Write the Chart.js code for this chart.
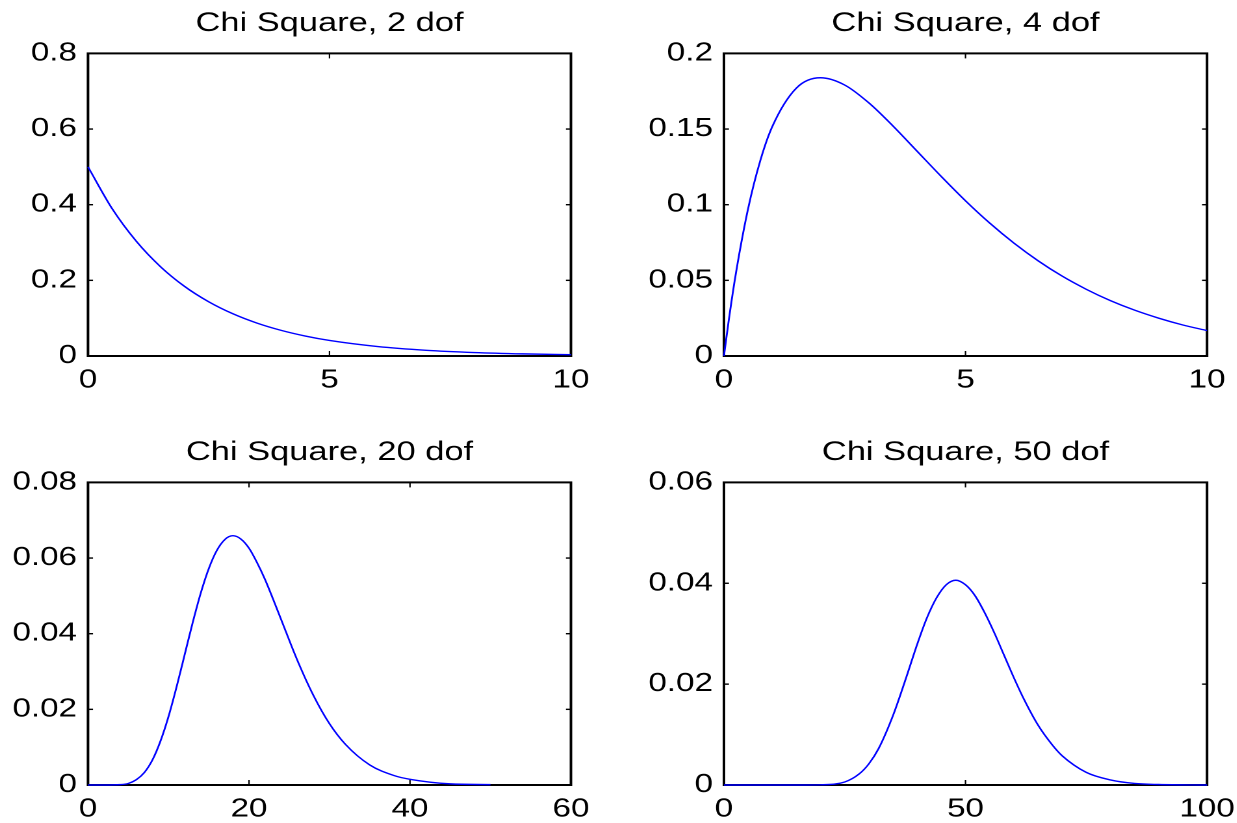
<!DOCTYPE html>
<html><head><meta charset="utf-8">
<script src="https://cdn.jsdelivr.net/npm/chart.js@4.4.0/dist/chart.umd.min.js"></script>
<style>
html,body{margin:0;padding:0;background:#fff;overflow:hidden;width:1237px;height:823px;}
.cell{position:absolute;transform-origin:0 0;transform:scaleX(1.3);}
</style></head><body>
<div class="cell" style="left:0px;top:0px;width:475px;height:394px"><canvas id="k1"></canvas></div>
<div class="cell" style="left:618px;top:0px;width:492px;height:394px"><canvas id="k2"></canvas></div>
<div class="cell" style="left:0px;top:429px;width:475px;height:394px"><canvas id="k3"></canvas></div>
<div class="cell" style="left:618px;top:429px;width:492px;height:394px"><canvas id="k4"></canvas></div>
<script>
// ---- data ----
const titles = ["Chi Square, 2 dof", "Chi Square, 4 dof", "Chi Square, 20 dof", "Chi Square, 50 dof"];

const x2dof = [0,0.5,1,1.5,2,2.5,3,3.5,4,4.5,5,6,7,8,9,10];
const y2dof = [0.5,0.3894,0.3033,0.2362,0.1839,0.1433,0.1116,0.0869,0.0677,0.0527,0.0410,0.0249,0.0151,0.0092,0.0056,0.0034];

const x4dof = [0,0.1,0.25,0.5,0.75,1,1.5,2,2.5,3,3.5,4,4.5,5,5.5,6,6.5,7,7.5,8,8.5,9,9.5,10];
const y4dof = [0,0.0238,0.0552,0.0974,0.1289,0.1516,0.1771,0.1839,0.1791,0.1673,0.1520,0.1353,0.1186,0.1026,0.0879,0.0747,0.0630,0.0528,0.0441,0.0366,0.0303,0.0250,0.0205,0.0168];

const x20dof = [0,2,4,5,6,7,8,9,10,11,12,13,14,15,16,17,18,19,20,21,22,23,24,26,28,30,32,35,38,40,45,50];
const y20dof = [0,0,0.0001,0.0004,0.0014,0.0033,0.0066,0.0116,0.0181,0.0259,0.0344,0.0429,0.0507,0.0572,0.0620,0.0649,0.0659,0.0650,0.0626,0.0588,0.0543,0.0491,0.0437,0.0330,0.0237,0.0162,0.0107,0.0053,0.0025,0.0015,0.0003,0.0001];

const x50dof = [0,15,20,25,28,30,32,35,38,40,42,44,46,48,50,52,54,56,58,60,62,65,68,70,75,80,85,90,100];
const y50dof = [0,0,0.00004,0.0006,0.0022,0.0042,0.0072,0.0138,0.0221,0.0279,0.0331,0.0371,0.0397,0.0406,0.0397,0.0375,0.0341,0.0301,0.0257,0.0213,0.0172,0.0119,0.0079,0.0058,0.0025,0.0010,0.0003,0.0001,0];

const xTicks1 = [0,5,10],        xLabels1 = ["0","5","10"];
const yTicks1 = [0,0.2,0.4,0.6,0.8], yLabels1 = ["0","0.2","0.4","0.6","0.8"];
const xTicks2 = [0,5,10],        xLabels2 = ["0","5","10"];
const yTicks2 = [0,0.05,0.1,0.15,0.2], yLabels2 = ["0","0.05","0.1","0.15","0.2"];
const xTicks3 = [0,20,40,60],    xLabels3 = ["0","20","40","60"];
const yTicks3 = [0,0.02,0.04,0.06,0.08], yLabels3 = ["0","0.02","0.04","0.06","0.08"];
const xTicks4 = [0,50,100],      xLabels4 = ["0","50","100"];
const yTicks4 = [0,0.02,0.04,0.06], yLabels4 = ["0","0.02","0.04","0.06"];

// ---- drawing ----
const S = 1.3;
const FONT = "'Liberation Sans', Arial, Helvetica, sans-serif";

const boxPlugin = {
  id: 'matlabBox',
  beforeDatasetsDraw(chart) {
    const {ctx, chartArea: a, scales: {x, y}} = chart;
    ctx.save();
    ctx.strokeStyle = '#000';
    ctx.lineWidth = 2;
    ctx.strokeRect(a.left, a.top, a.right - a.left, a.bottom - a.top);
    const L = 5;
    const seg = (x1, y1, x2, y2, w) => { ctx.lineWidth = w; ctx.beginPath(); ctx.moveTo(x1, y1); ctx.lineTo(x2, y2); ctx.stroke(); };
    x.ticks.forEach(t => {
      const px = x.getPixelForValue(t.value);
      if (px <= a.left + 1 || px >= a.right - 1) return;
      seg(px, a.bottom, px, a.bottom - L, 1.1);
      seg(px, a.top, px, a.top + L, 1.1);
    });
    y.ticks.forEach(t => {
      const py = y.getPixelForValue(t.value);
      if (py <= a.top + 1 || py >= a.bottom - 1) return;
      seg(a.left, py, a.left + L / S, py, 1.4);
      seg(a.right, py, a.right - L / S, py, 1.4);
    });
    ctx.restore();
  }
};

function makeChart(id, title, xs, ys, xT, xL, yT, yL, yAxisW, padRight) {
  const pts = xs.map((v, i) => ({x: v, y: ys[i]}));
  new Chart(document.getElementById(id), {
    type: 'line',
    data: {datasets: [{data: pts, borderColor: '#0000ff', borderWidth: 1.4, pointRadius: 0,
      cubicInterpolationMode: 'monotone', fill: false, clip: false}]},
    options: {
      responsive: true, maintainAspectRatio: false, animation: false, devicePixelRatio: 2,
      layout: {padding: {left: 0, right: padRight, top: 0, bottom: 0}},
      plugins: {
        legend: {display: false}, tooltip: {enabled: false},
        title: {display: true, text: title, color: '#000', fullSize: false,
          font: {family: FONT, size: 26.5, weight: 'normal', lineHeight: 1.2},
          padding: {top: 8, bottom: 13.6}}
      },
      scales: {
        x: {type: 'linear', min: xT[0], max: xT[xT.length - 1],
          grid: {display: false, drawTicks: false}, border: {display: false},
          afterBuildTicks: s => { s.ticks = xT.map(v => ({value: v})); },
          afterFit: s => { s.height = 38; },
          ticks: {color: '#000', font: {family: FONT, size: 25.5}, padding: 9, maxRotation: 0, autoSkip: false,
            callback: (v, i) => xL[i]}},
        y: {type: 'linear', min: yT[0], max: yT[yT.length - 1],
          grid: {display: false, drawTicks: false}, border: {display: false},
          afterBuildTicks: s => { s.ticks = yT.map(v => ({value: v})); },
          afterFit: s => { s.width = yAxisW; },
          ticks: {color: '#000', font: {family: FONT, size: 25.5}, padding: 8.5, autoSkip: false,
            callback: (v, i) => yL[i]}}
      }
    },
    plugins: [boxPlugin]
  });
}

makeChart('k1', titles[0], x2dof, y2dof, xTicks1, xLabels1, yTicks1, yLabels1, 67.7, 35.8);
makeChart('k2', titles[1], x4dof, y4dof, xTicks2, xLabels2, yTicks2, yLabels2, 81.5, 38.9);
makeChart('k3', titles[2], x20dof, y20dof, xTicks3, xLabels3, yTicks3, yLabels3, 67.7, 35.8);
makeChart('k4', titles[3], x50dof, y50dof, xTicks4, xLabels4, yTicks4, yLabels4, 81.5, 38.9);
</script>
</body></html>
